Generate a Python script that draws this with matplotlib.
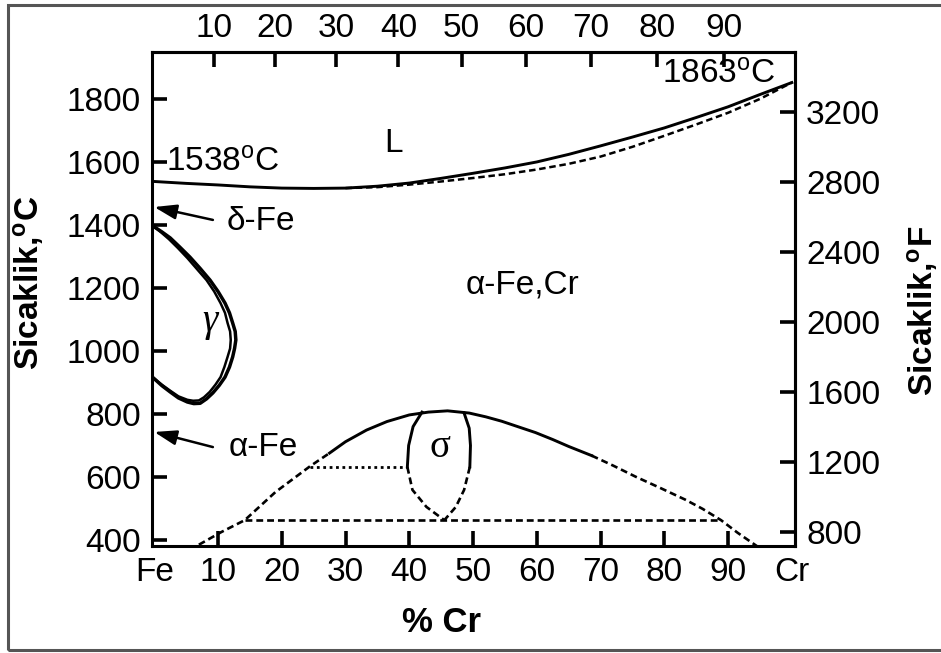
import numpy as np
import matplotlib
matplotlib.use("Agg")
import matplotlib.pyplot as plt
from matplotlib.patches import Rectangle

plt.rcParams['font.family'] = ['Liberation Sans', 'DejaVu Sans']
plt.rcParams['mathtext.fontset'] = 'custom'
plt.rcParams['mathtext.rm'] = 'Liberation Sans'
plt.rcParams['mathtext.bf'] = 'Liberation Sans:bold'
plt.rcParams['mathtext.it'] = 'Liberation Sans:italic'

# ---------------- data (wt% Cr, temperature degC) ----------------
liq_x = [0, 5, 10, 15, 20, 25, 30, 35, 40, 45, 50, 55, 60, 65, 70, 75, 80, 85, 90, 95, 100]
liq_T = [1538, 1532, 1527, 1521, 1517, 1516, 1517, 1523, 1533, 1548, 1564, 1581, 1600,
         1624, 1651, 1679, 1708, 1741, 1775, 1814, 1852]

sol_x = [30, 35, 40, 45, 50, 55, 60, 65, 70, 75, 80, 85, 90, 95, 100]
sol_T = [1517, 1520, 1528, 1538, 1549, 1561, 1576, 1594, 1617, 1648, 1683, 1719, 1756, 1800, 1852]

gam_out_x = [0, 1.2, 2.5, 4.0, 5.6, 7.2, 8.75, 10.0, 11.1, 11.8, 12.3, 12.7, 12.8, 12.6, 12.3,
             11.8, 11.1, 10.2, 9.2, 8.2, 7.2, 6.2, 5.2, 3.8, 2.5, 1.2, 0]
gam_out_T = [1394, 1378, 1359, 1330, 1298, 1262, 1225, 1189, 1152, 1121, 1089, 1062, 1035,
             1008, 981, 949, 917, 891, 867, 848, 834, 833, 838, 851, 870, 890, 912]
gam_in_x = [0, 1.1, 2.3, 3.7, 5.2, 6.7, 8.2, 9.4, 10.4, 11.1, 11.5, 11.9, 12.0, 11.9, 11.5,
            11.0, 10.4, 9.6, 8.7, 7.8, 7.0, 6.1, 5.2, 3.8, 2.5, 1.2, 0]
gam_in_T = [1394, 1376, 1355, 1327, 1295, 1260, 1225, 1189, 1152, 1121, 1089, 1062, 1035,
            1008, 981, 949, 917, 893, 870, 853, 843, 842, 845, 856, 874, 893, 912]

dome_l_x = [7.0, 10.5, 14.2, 19.0, 24.5, 27.5]
dome_l_T = [385, 425, 463, 552, 635, 676]
dome_s_x = [27.5, 30.0, 33.3, 36.5, 40.0, 43.0, 46.0, 49.4, 52.0, 54.5, 57.0, 59.8, 62.5, 65.0, 68.6]
dome_s_T = [676, 712, 749, 776, 797, 806, 810, 803, 791, 777, 760, 741, 719, 697, 668]
dome_r_x = [68.6, 72.0, 75.5, 79.5, 83.3, 86.0, 88.9, 91.5, 94.5]
dome_r_T = [668, 636, 601, 564, 528, 499, 463, 423, 381]

eut_x = [14.2, 88.9]
eut_T = [463, 463]
dot_x = [24.5, 39.7]
dot_T = [632, 632]

sig_ls_x = [42.0, 40.6, 39.9, 39.7]
sig_ls_T = [806, 760, 700, 632]
sig_ld_x = [39.7, 40.5, 42.7, 45.5]
sig_ld_T = [632, 559, 505, 463]
sig_rs_x = [48.6, 49.4, 49.6, 49.5]
sig_rs_T = [803, 755, 700, 632]
sig_rd_x = [49.5, 48.6, 47.3, 45.5]
sig_rd_T = [632, 559, 505, 463]

x_ticks = [0, 10, 20, 30, 40, 50, 60, 70, 80, 90, 100]
x_ticklabels = ['Fe', '10', '20', '30', '40', '50', '60', '70', '80', '90', 'Cr']
top_ticks = [10, 20, 30, 40, 50, 60, 70, 80, 90]
y_ticks = [400, 600, 800, 1000, 1200, 1400, 1600, 1800]
f_ticks = [800, 1200, 1600, 2000, 2400, 2800, 3200]

M_FE, M_CR = 55.845, 52.00


def wt_to_at(w):
    w = np.asarray(w, dtype=float)
    a = w / M_CR
    b = (100 - w) / M_FE
    return 100 * a / (a + b)


def at_to_wt(a):
    a = np.asarray(a, dtype=float)
    m = a * M_CR
    n = (100 - a) * M_FE
    return 100 * m / (m + n)


def c_to_f(c):
    return np.asarray(c, dtype=float) * 1.8 + 32


def f_to_c(f):
    return (np.asarray(f, dtype=float) - 32) / 1.8


# ---------------- figure ----------------
W, H = 941, 653
fig = plt.figure(figsize=(W / 100, H / 100), dpi=100)
ax = fig.add_axes([152 / W, (H - 546) / H, (795 - 152) / W, (546 - 52) / H])
ax.set_xlim(-0.35, 100.5)
ax.set_ylim(381, 1949)

lw = 2.1
dash = (0, (2.6, 1.5))
ax.plot(liq_x, liq_T, color='k', lw=lw, solid_joinstyle='round')
ax.plot(sol_x, sol_T, color='k', lw=1.8, linestyle=dash)
ax.plot(gam_out_x, gam_out_T, color='k', lw=2.5, solid_joinstyle='round')
ax.plot(gam_in_x, gam_in_T, color='k', lw=1.8, solid_joinstyle='round')
ax.plot(dome_l_x, dome_l_T, color='k', lw=1.9, linestyle=dash)
ax.plot(dome_s_x, dome_s_T, color='k', lw=lw, solid_joinstyle='round')
ax.plot(dome_r_x, dome_r_T, color='k', lw=1.9, linestyle=dash)
ax.plot(eut_x, eut_T, color='k', lw=1.9, linestyle=dash)
ax.plot(dot_x, dot_T, color='k', lw=2.0, linestyle=(0, (1.0, 1.3)))
ax.plot(sig_ls_x, sig_ls_T, color='k', lw=lw, solid_joinstyle='round')
ax.plot(sig_ld_x, sig_ld_T, color='k', lw=1.9, linestyle=dash)
ax.plot(sig_rs_x, sig_rs_T, color='k', lw=lw, solid_joinstyle='round')
ax.plot(sig_rd_x, sig_rd_T, color='k', lw=1.9, linestyle=dash)

# labels inside
fs = 24
ax.text(37.5, 1660, 'L', fontsize=fs, ha='center', va='center')
ax.text(57.7, 1210, 'α-Fe,Cr', fontsize=fs, ha='center', va='center')
ax.text(8.7, 1092, 'γ', fontsize=28, ha='center', va='center',
        family=['Liberation Serif', 'DejaVu Serif'], style='italic')
ax.text(44.8, 695, 'σ', fontsize=28, ha='center', va='center',
        family=['Liberation Serif', 'DejaVu Serif'])
ax.text(1.85, 1597, r'1538$^{\mathrm{o}}$C', fontsize=fs, ha='left', va='center')
ax.text(79.7, 1876, r'1863$^{\mathrm{o}}$C', fontsize=fs, ha='left', va='center')
ax.text(11.4, 1410, 'δ-Fe', fontsize=fs, ha='left', va='center')
ax.text(11.6, 695, 'α-Fe', fontsize=fs, ha='left', va='center')

arr = dict(arrowstyle='-|>,head_length=0.75,head_width=0.25', color='k', lw=1.8,
           mutation_scale=18, shrinkA=0, shrinkB=0)
ax.annotate('', xy=(0, 1457), xytext=(9.2, 1416), arrowprops=arr)
ax.annotate('', xy=(0, 743), xytext=(9.2, 695), arrowprops=arr)

# axes styling
for s in ax.spines.values():
    s.set_linewidth(2.2)
ax.set_xticks(x_ticks)
ax.set_xticklabels(x_ticklabels)
ax.set_yticks(y_ticks)
ax.tick_params(axis='both', direction='in', length=11, width=2.6, labelsize=fs, pad=8)
xt = ax.xaxis.get_major_ticks()
xt[0].tick1line.set_visible(False)
xt[-1].tick1line.set_visible(False)

secx = ax.secondary_xaxis('top', functions=(wt_to_at, at_to_wt))
secx.set_xticks(top_ticks)
secx.tick_params(direction='in', length=11, width=2.6, labelsize=fs, pad=6)
secx.spines['top'].set_linewidth(2.2)

secy = ax.secondary_yaxis('right', functions=(c_to_f, f_to_c))
secy.set_yticks(f_ticks)
secy.tick_params(direction='in', length=11, width=2.6, labelsize=fs, pad=8)
secy.spines['right'].set_linewidth(2.2)

# axis titles
fig.text(28 / W, 1 - 283 / H, r'Sicaklik,$\mathbf{^{o}}$C', rotation=90, fontsize=24,
         fontweight='bold', ha='center', va='center')
fig.text(923 / W, 1 - 311 / H, r'Sicaklik,$\mathbf{^{o}}$F', rotation=90, fontsize=24,
         fontweight='bold', ha='center', va='center')
fig.text(441 / W, 1 - 623 / H, '% Cr', fontsize=25, fontweight='bold', ha='center', va='center')

# outer frame
fig.patches.append(Rectangle((8 / W, 3 / H), 1.05, (650 - 5) / H, transform=fig.transFigure,
                             fill=False, edgecolor='#555555', lw=2.2))

fig.savefig('out.png', dpi=100)
